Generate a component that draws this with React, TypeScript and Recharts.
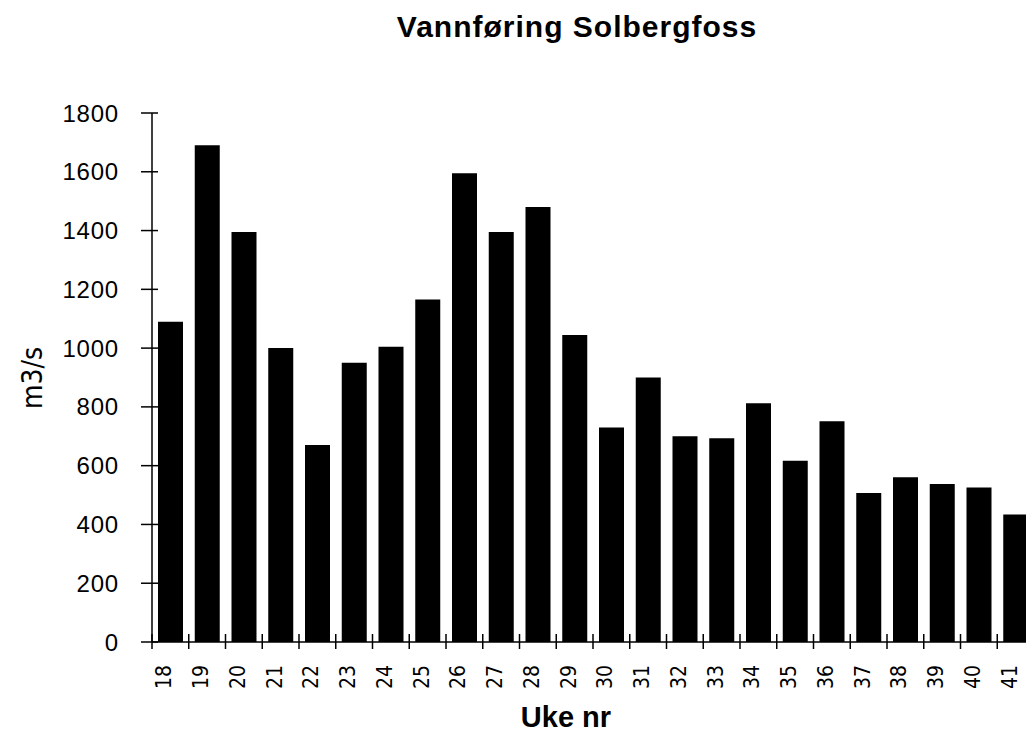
import React from 'react';
import { BarChart, Bar, XAxis, YAxis } from 'recharts';

// Uke nr (week numbers) and weekly mean discharge at Solbergfoss, m3/s
const WEEKS = ['18', '19', '20', '21', '22', '23', '24', '25', '26', '27', '28', '29',
  '30', '31', '32', '33', '34', '35', '36', '37', '38', '39', '40', '41'];
const FLOW = [1090, 1690, 1395, 1000, 670, 950, 1005, 1165, 1595, 1395, 1480, 1045,
  730, 900, 700, 693, 812, 617, 751, 507, 561, 538, 526, 434];
const Y_TICKS = [0, 200, 400, 600, 800, 1000, 1200, 1400, 1600, 1800];

const data = WEEKS.map((w, i) => ({ week: w, flow: FLOW[i] }));

// chart is a bit wider than the page so the last bar gets clipped like the scan
const CHART_W = 1040;
const CHART_H = 735;
const X_AXIS_H = 30;
const MARGIN = { top: 113, right: 6, bottom: 93 - X_AXIS_H, left: 0 };
const Y_AXIS_W = 152;
const CAT_W = (CHART_W - MARGIN.right - MARGIN.left - Y_AXIS_W) / WEEKS.length;

const NARROW = '"Liberation Sans Narrow", "DejaVu Sans Condensed", "Liberation Sans", sans-serif';
const SANS = '"Liberation Sans", Arial, sans-serif';

const YTick = (props: any) => {
  const { x, y, payload } = props;
  return (
    <g>
      <line x1={x - 11} x2={x + 6} y1={y} y2={y} stroke="#000" strokeWidth={1.5} />
      <text x={x - 33} y={y + 8.5} textAnchor="end" fontSize={24} letterSpacing={0.8}
        fontFamily={SANS} fill="#000">
        {payload.value}
      </text>
    </g>
  );
};

const XTick = (props: any) => {
  const { x, y, payload } = props;
  const bx = x - CAT_W / 2;
  return (
    <g>
      <line x1={bx} x2={bx} y1={y - 8} y2={y + 7} stroke="#000" strokeWidth={1.5} />
      <text x={x + 1} y={y + 23} transform={`rotate(-90 ${x + 1} ${y + 23})`}
        textAnchor="end" fontSize={21} fontFamily={NARROW} fill="#000">
        {payload.value}
      </text>
    </g>
  );
};

export default function App() {
  return (
    <div style={{ position: 'relative', width: 1026, height: 735, overflow: 'hidden', background: '#fff' }}>
      <style>{'body{margin:0;background:#fff}'}</style>
      <BarChart width={CHART_W} height={CHART_H} data={data} margin={MARGIN} barSize={25}>
        <XAxis
          dataKey="week"
          height={X_AXIS_H}
          interval={0}
          tickSize={0}
          tickMargin={0}
          tickLine={false}
          axisLine={{ stroke: '#000', strokeWidth: 1.5 }}
          tick={<XTick />}
        />
        <YAxis
          width={Y_AXIS_W}
          domain={[0, 1800]}
          ticks={Y_TICKS}
          interval={0}
          tickSize={0}
          tickMargin={0}
          tickLine={false}
          axisLine={{ stroke: '#000', strokeWidth: 1.5 }}
          tick={<YTick />}
        />
        <Bar dataKey="flow" fill="#000" isAnimationActive={false} />
      </BarChart>
      <svg width={1026} height={735} style={{ position: 'absolute', left: 0, top: 0, pointerEvents: 'none' }}>
        <text x={577} y={37} textAnchor="middle" fontSize={30} fontWeight="bold" letterSpacing={1}
          fontFamily={SANS} fill="#000">
          Vannføring Solbergfoss
        </text>
        <text x={42} y={378} transform="rotate(-90 42 378)" textAnchor="middle" fontSize={28}
          fontFamily={NARROW} fill="#000">
          m3/s
        </text>
        <text x={566} y={727} textAnchor="middle" fontSize={29} fontWeight="bold"
          fontFamily={SANS} fill="#000">
          Uke nr
        </text>
      </svg>
    </div>
  );
}
